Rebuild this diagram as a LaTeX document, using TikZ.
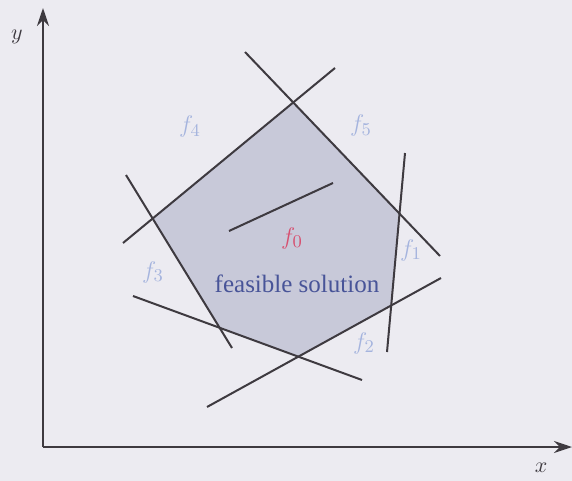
\documentclass[tikz,border=0pt]{standalone}
\usepackage{fontspec}
\setmainfont{Liberation Serif}
\usetikzlibrary{arrows.meta}
\definecolor{bgc}{RGB}{236,235,241}
\definecolor{regionc}{RGB}{200,201,217}
\definecolor{linec}{RGB}{62,58,64}
\definecolor{lblc}{RGB}{165,180,222}
\definecolor{objc}{RGB}{215,80,112}
\definecolor{feasc}{RGB}{72,84,152}
\begin{document}
\begin{tikzpicture}[x=0.5pt,y=-0.5pt,
  constraint/.style={draw=linec,line width=1pt},
  axis/.style={draw=linec,line width=1pt,-{Stealth[length=9pt,width=6pt]}},
  flabel/.style={text=lblc,font=\fontsize{13}{15}\selectfont,inner sep=0pt},
  axlabel/.style={text=linec,font=\fontsize{11}{13}\selectfont,inner sep=0pt}]
\fill[bgc] (0,0) rectangle (572,481);
\useasboundingbox (0,0) rectangle (572,481);
% line end points
\coordinate (a1) at (123,243); \coordinate (a2) at (335,68);   % f4
\coordinate (b1) at (245,52);  \coordinate (b2) at (440,256);  % f5
\coordinate (c1) at (405,153); \coordinate (c2) at (387,352);  % f1
\coordinate (d1) at (207,407); \coordinate (d2) at (441,278);  % f2
\coordinate (e1) at (133,296); \coordinate (e2) at (362,380);  % lower
\coordinate (h1) at (126,175); \coordinate (h2) at (232,348);  % f3
\coordinate (o1) at (229,231); \coordinate (o2) at (333,183);  % f0
% feasible region
\fill[regionc] (intersection of a1--a2 and h1--h2)
  -- (intersection of a1--a2 and b1--b2)
  -- (intersection of b1--b2 and c1--c2)
  -- (intersection of c1--c2 and d1--d2)
  -- (intersection of d1--d2 and e1--e2)
  -- (intersection of e1--e2 and h1--h2) -- cycle;
% constraints
\draw[constraint] (a1) -- (a2);
\draw[constraint] (b1) -- (b2);
\draw[constraint] (c1) -- (c2);
\draw[constraint] (d1) -- (d2);
\draw[constraint] (e1) -- (e2);
\draw[constraint] (h1) -- (h2);
\draw[constraint] (o1) -- (o2);
% axes
\coordinate (origin) at (43,447);
\coordinate (ytip) at (43,8);
\coordinate (xtip) at (572,447);
\draw[axis] (origin) -- (ytip);
\draw[axis] (origin) -- (xtip);
\node[axlabel] (ylab) at (17,37) {$y$};
\node[axlabel] (xlab) at (541,468) {$x$};
% labels
\node[flabel] (l4) at (190,127) {$f_4$};
\node[flabel] (l5) at (361,126) {$f_5$};
\node[flabel] (l1) at (411,250) {$f_1$};
\node[flabel] (l3) at (153,272) {$f_3$};
\node[flabel] (l2) at (364,343) {$f_2$};
\node[flabel,text=objc] (l0) at (292,238) {$f_0$};
\node[text=feasc,font=\fontsize{12.5}{15}\selectfont,inner sep=0pt] (fs) at (297,284) {feasible solution};
\end{tikzpicture}
\end{document}
